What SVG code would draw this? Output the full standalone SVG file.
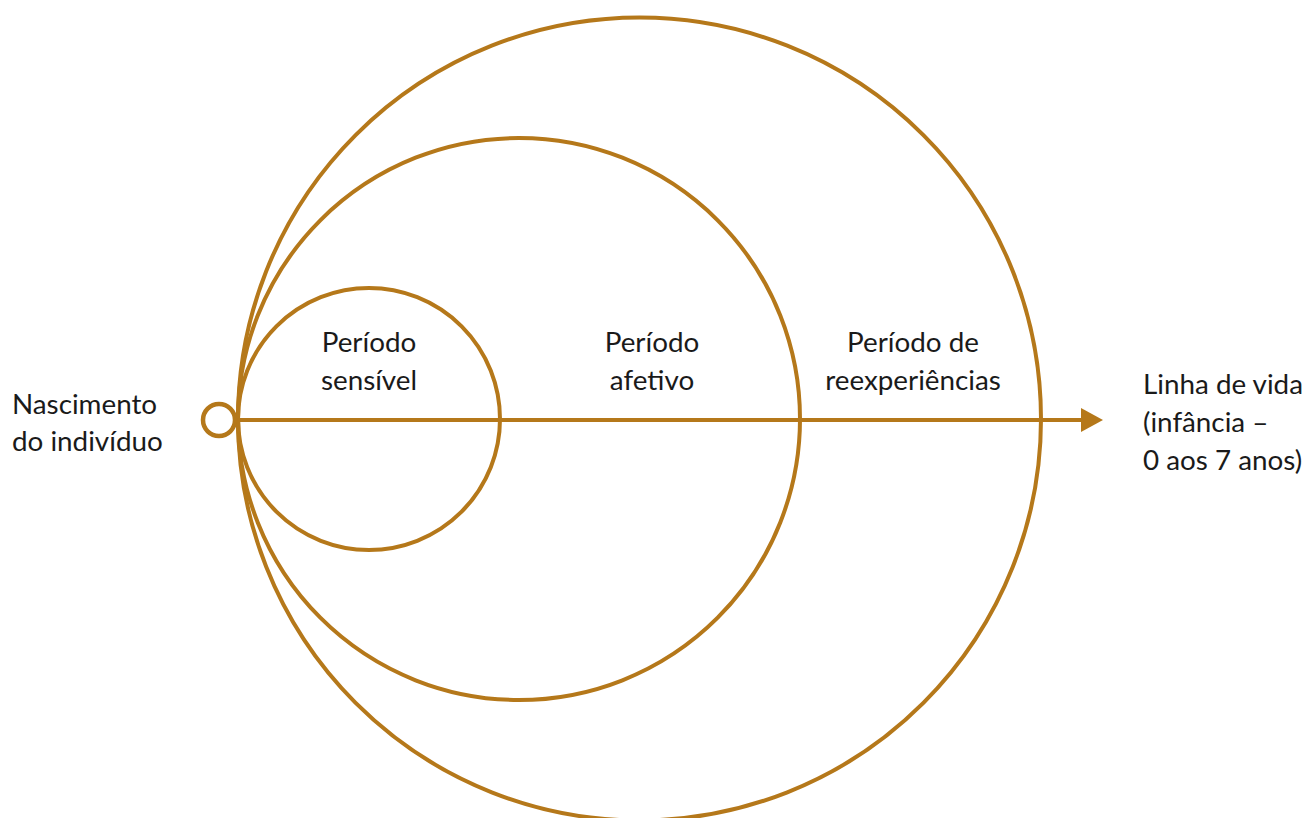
<svg xmlns="http://www.w3.org/2000/svg" width="1306" height="818" viewBox="0 0 1306 818">
<style>
.c{fill:none;stroke:#B5781A;stroke-width:4}
.t{font-family:Lato,"Open Sans",sans-serif;font-size:27.8px;fill:#1a1a1a}
</style>
<defs>
<marker id="ah" markerWidth="22" markerHeight="24" refX="0" refY="12" orient="auto" markerUnits="userSpaceOnUse">
<path d="M0,0 L22,12 L0,24 Z" fill="#B5781A"/>
</marker>
</defs>
<rect width="1306" height="818" fill="#fff"/>
<g id="large-circle"><circle class="c" cx="639.5" cy="419" r="401.5"/></g>
<g id="medium-circle"><circle class="c" cx="519" cy="419" r="281"/></g>
<g id="small-circle"><circle class="c" cx="369" cy="419" r="131"/></g>
<g id="connectors">
<line x1="237" y1="420" x2="1081" y2="420" stroke="#B5781A" stroke-width="4" marker-end="url(#ah)"/>
</g>
<g id="birth-node"><circle cx="219" cy="420" r="16" fill="#fff" stroke="#B5781A" stroke-width="4.5"/></g>
<g id="label-birth"><text class="t" x="12" y="414">Nascimento</text><text class="t" x="12" y="451">do indivíduo</text></g>
<g id="label-sensivel"><text class="t" text-anchor="middle" x="369" y="352">Período</text><text class="t" text-anchor="middle" x="369" y="390">sensível</text></g>
<g id="label-afetivo"><text class="t" text-anchor="middle" x="652" y="352">Período</text><text class="t" text-anchor="middle" x="652" y="390">afetivo</text></g>
<g id="label-reexp"><text class="t" text-anchor="middle" x="913" y="352">Período de</text><text class="t" text-anchor="middle" x="913" y="390">reexperiências</text></g>
<g id="label-linha"><text class="t" x="1143" y="394">Linha de vida</text><text class="t" x="1143" y="432">(infância –</text><text class="t" x="1143" y="470">0 aos 7 anos)</text></g>
</svg>
